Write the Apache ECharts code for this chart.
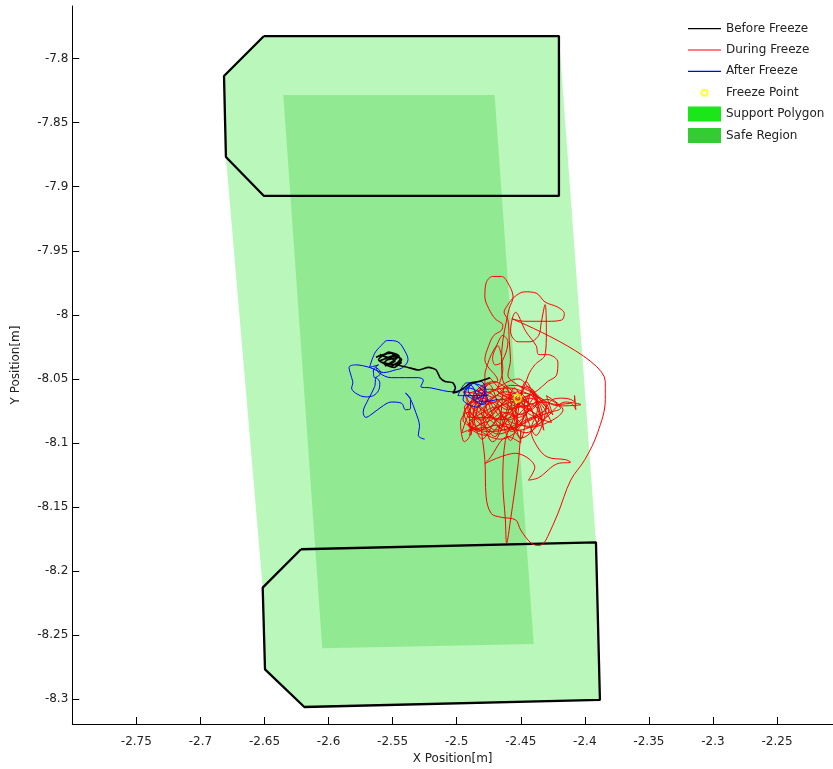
<!DOCTYPE html>
<html>
<head>
<meta charset="utf-8">
<script src="https://cdn.jsdelivr.net/npm/echarts@6/dist/echarts.min.js"></script>
<style>
html,body{margin:0;padding:0;background:#fff;}
#chart{width:833px;height:769px;}
</style>
</head>
<body>
<div id="chart"></div>
<script>
// ---- tick values ----
const xTicks = [-2.75, -2.7, -2.65, -2.6, -2.55, -2.5, -2.45, -2.4, -2.35, -2.3, -2.25];
const yTicks = [-8.3, -8.25, -8.2, -8.15, -8.1, -8.05, -8, -7.95, -7.9, -7.85, -7.8];

// ---- regions (x, y in metres) ----
const supportPolygon = [[-2.6504,-7.7824],[-2.4202,-7.7824],[-2.3913,-8.1775],[-2.3882,-8.3005],[-2.6189,-8.3060],[-2.6496,-8.2766],[-2.6514,-8.2129],[-2.6801,-7.8768],[-2.6816,-7.8136]];
const safeRegion = [[-2.6353,-7.8284],[-2.4704,-7.8284],[-2.4399,-8.2568],[-2.6049,-8.2602]];
const topFoot = [[-2.6504,-7.7824],[-2.4202,-7.7824],[-2.4202,-7.9072],[-2.6504,-7.9072],[-2.6801,-7.8768],[-2.6816,-7.8136],[-2.6504,-7.7824]];
const bottomFoot = [[-2.6215,-8.1829],[-2.3913,-8.1775],[-2.3882,-8.3005],[-2.6189,-8.3060],[-2.6496,-8.2766],[-2.6514,-8.2129],[-2.6215,-8.1829]];

// ---- trajectories ----
const beforeFreeze = [[-2.563,-8.033],[-2.557,-8.031],[-2.551,-8.030],[-2.547,-8.033],[-2.554,-8.035],[-2.557,-8.038],[-2.552,-8.040],[-2.546,-8.037],[-2.544,-8.034],[-2.550,-8.032],[-2.555,-8.034],[-2.560,-8.036],[-2.554,-8.038],[-2.547,-8.039],[-2.543,-8.035],[-2.549,-8.031],[-2.552,-8.034],[-2.560,-8.031],[-2.548,-8.036],[-2.556,-8.040],[-2.545,-8.032],[-2.553,-8.029],[-2.561,-8.035],[-2.549,-8.041],[-2.543,-8.037],[-2.546,-8.039],[-2.538,-8.041],[-2.530,-8.043],[-2.522,-8.041],[-2.516,-8.043],[-2.513,-8.049],[-2.509,-8.052],[-2.503,-8.053],[-2.501,-8.057],[-2.503,-8.061],[-2.499,-8.060],[-2.493,-8.056],[-2.489,-8.053],[-2.483,-8.052],[-2.474,-8.049]];

const duringFreeze = [[-2.474,-8.049],[-2.464,-8.060],[-2.454,-8.065],[-2.444,-8.063],[-2.448,-8.070],[-2.460,-8.074],[-2.472,-8.068],[-2.479,-8.074],[-2.468,-8.082],[-2.452,-8.078],[-2.440,-8.073],[-2.437,-8.065],[-2.446,-8.057],[-2.458,-8.055],[-2.469,-8.063],[-2.477,-8.070],[-2.485,-8.078],[-2.491,-8.086],[-2.482,-8.090],[-2.469,-8.086],[-2.456,-8.088],[-2.444,-8.082],[-2.433,-8.076],[-2.425,-8.066],[-2.417,-8.065],[-2.411,-8.066],[-2.408,-8.068],[-2.408,-8.063],[-2.407,-8.074],[-2.411,-8.069],[-2.421,-8.070],[-2.433,-8.068],[-2.443,-8.074],[-2.452,-8.084],[-2.464,-8.090],[-2.476,-8.091],[-2.487,-8.088],[-2.495,-8.082],[-2.493,-8.073],[-2.483,-8.065],[-2.472,-8.059],[-2.460,-8.057],[-2.448,-8.060],[-2.438,-8.066],[-2.433,-8.078],[-2.440,-8.086],[-2.452,-8.090],[-2.464,-8.086],[-2.474,-8.078],[-2.483,-8.070],[-2.487,-8.063],[-2.479,-8.055],[-2.468,-8.051],
[-2.478,-8.035],[-2.475,-8.024],[-2.471,-8.016],[-2.465,-8.012],[-2.464,-8.008],[-2.470,-8.003],[-2.475,-7.995],[-2.478,-7.986],[-2.477,-7.975],[-2.472,-7.970],[-2.465,-7.970],[-2.459,-7.977],[-2.456,-7.986],[-2.459,-7.995],[-2.461,-8.004],[-2.464,-8.020],[-2.465,-8.035],[-2.464,-8.051],
[-2.456,-8.060],[-2.444,-8.070],[-2.450,-8.078],[-2.462,-8.070],[-2.472,-8.074],[-2.482,-8.082],[-2.491,-8.076],[-2.497,-8.084],[-2.494,-8.099],[-2.490,-8.095],[-2.489,-8.084],[-2.476,-8.080],[-2.460,-8.082],[-2.448,-8.074],[-2.440,-8.063],[-2.452,-8.055],[-2.460,-8.047],
[-2.458,-8.035],[-2.459,-8.020],[-2.460,-8.004],[-2.463,-7.998],[-2.460,-7.992],[-2.455,-7.986],[-2.447,-7.982],[-2.438,-7.983],[-2.431,-7.990],[-2.421,-7.994],[-2.416,-7.999],[-2.418,-8.004],[-2.429,-8.005],[-2.447,-8.005],[-2.457,-8.003],
[-2.384,-8.052],[-2.384,-8.066],[-2.390,-8.092],[-2.400,-8.113],[-2.411,-8.129],[-2.421,-8.155],[-2.429,-8.173],[-2.432,-8.178],[-2.436,-8.180],[-2.442,-8.178],[-2.450,-8.168],[-2.454,-8.160],[-2.465,-8.158],[-2.473,-8.155],[-2.477,-8.142],[-2.478,-8.113],[-2.481,-8.084],
[-2.472,-8.078],[-2.458,-8.066],[-2.446,-8.068],[-2.437,-8.074],[-2.442,-8.090],[-2.437,-8.103],[-2.429,-8.111],[-2.415,-8.113],[-2.411,-8.115],[-2.421,-8.116],[-2.436,-8.127],[-2.444,-8.129],[-2.439,-8.119],[-2.454,-8.108],[-2.478,-8.116],[-2.475,-8.113],[-2.460,-8.095],[-2.450,-8.100],[-2.450,-8.090],[-2.452,-8.116],[-2.458,-8.160],[-2.461,-8.178],[-2.462,-8.160],[-2.464,-8.129],[-2.462,-8.098],[-2.456,-8.082],
[-2.444,-8.047],[-2.439,-8.039],[-2.431,-8.031],[-2.430,-8.013],[-2.431,-7.992],[-2.434,-8.006],[-2.436,-8.016],[-2.443,-8.021],[-2.452,-8.021],[-2.458,-8.013],[-2.454,-7.998],[-2.446,-8.013],[-2.438,-8.024],[-2.436,-8.031],[-2.429,-8.031],[-2.421,-8.037],[-2.422,-8.047],[-2.429,-8.052],[-2.437,-8.059],
[-2.448,-8.065],[-2.464,-8.070],[-2.475,-8.076],[-2.478,-8.047],[-2.476,-8.039],[-2.473,-8.031],[-2.469,-8.024],[-2.464,-8.016],[-2.460,-8.021],[-2.465,-8.037],[-2.470,-8.039],[-2.472,-8.034],[-2.468,-8.024],[-2.464,-8.043],[-2.468,-8.059],[-2.456,-8.066],[-2.444,-8.074],[-2.452,-8.080],[-2.464,-8.076],[-2.473,-8.082],[-2.483,-8.086],[-2.491,-8.091],[-2.479,-8.088],[-2.468,-8.093],[-2.452,-8.087],[-2.438,-8.080],[-2.427,-8.076],[-2.419,-8.073],[-2.429,-8.066],[-2.440,-8.069],[-2.452,-8.072],[-2.464,-8.066],[-2.476,-8.070],[-2.483,-8.060],[-2.476,-8.055],
[-2.487,-8.066],[-2.472,-8.080],[-2.491,-8.080],[-2.468,-8.063],[-2.452,-8.086],[-2.456,-8.063],[-2.433,-8.082],[-2.440,-8.060],[-2.425,-8.078],[-2.430,-8.063],[-2.417,-8.074],[-2.444,-8.088],[-2.460,-8.076],[-2.476,-8.088],[-2.491,-8.070],[-2.479,-8.065],[-2.464,-8.080],[-2.448,-8.066],[-2.437,-8.086],[-2.452,-8.060],[-2.469,-8.074],[-2.483,-8.091],[-2.494,-8.078],[-2.477,-8.060],[-2.458,-8.073],[-2.443,-8.065],[-2.430,-8.073],[-2.446,-8.082],[-2.462,-8.090],[-2.474,-8.082],[-2.485,-8.073],[-2.472,-8.065],
[-2.495,-8.060],[-2.470,-8.095],[-2.462,-8.055],[-2.450,-8.097],[-2.441,-8.058],[-2.432,-8.090],[-2.446,-8.052],[-2.458,-8.098],[-2.475,-8.054],[-2.489,-8.094],[-2.481,-8.058],[-2.466,-8.088],[-2.455,-8.057],[-2.438,-8.094],[-2.430,-8.070],[-2.449,-8.061],[-2.472,-8.099],[-2.485,-8.068],[-2.496,-8.092],[-2.478,-8.083],[-2.460,-8.062],[-2.444,-8.077],[-2.426,-8.084],[-2.437,-8.068],[-2.457,-8.091],[-2.470,-8.072],[-2.488,-8.080],[-2.492,-8.064],[-2.474,-8.058],[-2.455,-8.069],[-2.436,-8.081],[-2.449,-8.096],[-2.465,-8.079],[-2.480,-8.097],[-2.487,-8.075],[-2.468,-8.057],[-2.452,-8.050],[-2.440,-8.062],[-2.428,-8.074],[-2.441,-8.087],[-2.459,-8.083],[-2.476,-8.067],[-2.494,-8.072],[-2.483,-8.089],[-2.466,-8.097],[-2.451,-8.088],[-2.447,-8.068],[-2.462,-8.060],[-2.479,-8.077],[-2.470,-8.090],[-2.455,-8.075],[-2.445,-8.056],[-2.433,-8.066],[-2.420,-8.071],[-2.403,-8.070],[-2.415,-8.068],[-2.430,-8.080],[-2.446,-8.092],[-2.463,-8.085],[-2.477,-8.094],[-2.490,-8.086],[-2.486,-8.061],[-2.471,-8.052],[-2.457,-8.064],[-2.468,-8.066]];

const afterFreeze = [[-2.468,-8.066],[-2.480,-8.068],[-2.489,-8.055],[-2.495,-8.066],[-2.484,-8.072],[-2.478,-8.058],[-2.492,-8.053],[-2.499,-8.063],[-2.476,-8.063],[-2.482,-8.057],[-2.487,-8.053],[-2.491,-8.059],[-2.485,-8.065],[-2.477,-8.060],[-2.481,-8.052],[-2.490,-8.055],[-2.494,-8.060],[-2.487,-8.066],[-2.479,-8.070],[-2.476,-8.065],[-2.483,-8.060],[-2.491,-8.057],[-2.497,-8.059],[-2.504,-8.060],[-2.511,-8.059],[-2.520,-8.057],[-2.528,-8.056],[-2.526,-8.051],[-2.530,-8.049],[-2.540,-8.049],[-2.551,-8.049],[-2.561,-8.045],[-2.563,-8.041],[-2.559,-8.045],[-2.564,-8.049],[-2.565,-8.043],[-2.561,-8.039],[-2.568,-8.041],[-2.564,-8.030],[-2.559,-8.024],[-2.554,-8.020],[-2.546,-8.021],[-2.540,-8.029],[-2.538,-8.035],[-2.542,-8.041],[-2.548,-8.043],[-2.557,-8.045],[-2.568,-8.041],[-2.579,-8.039],[-2.584,-8.041],[-2.582,-8.049],[-2.581,-8.053],[-2.582,-8.057],[-2.579,-8.061],[-2.571,-8.064],[-2.565,-8.063],[-2.561,-8.059],[-2.560,-8.053],[-2.563,-8.049],[-2.564,-8.056],[-2.569,-8.066],[-2.573,-8.076],[-2.571,-8.080],[-2.567,-8.078],[-2.559,-8.072],[-2.551,-8.068],[-2.543,-8.069],[-2.540,-8.074],[-2.536,-8.073],[-2.536,-8.066],[-2.540,-8.061],[-2.536,-8.066],[-2.532,-8.076],[-2.529,-8.087],[-2.530,-8.094],[-2.528,-8.096],[-2.525,-8.097]];

const freezePoint = [[-2.4524,-8.0651]];

// ---- axis extents ----
const xMin = -2.8, xMax = -2.2063, yMin = -8.31928, yMax = -7.75895;

const FONT = 'DejaVu Sans';
const TXT = '#222';

function polygonRenderer(points, fill) {
  return function (params, api) {
    if (params.dataIndex !== 0) return;
    const pts = points.map(p => api.coord(p));
    return { type: 'polygon', shape: { points: pts }, style: { fill: fill } };
  };
}

const ringIcon = 'path://M0,0L0,0M33,15L33,15M12.5,7.5A4,4 0 1,1 20.5,7.5A4,4 0 1,1 12.5,7.5ZM14.5,7.5A2,2 0 1,0 18.5,7.5A2,2 0 1,0 14.5,7.5Z';
const lineIcon = 'path://M0,0L0,0M33,15L33,15M0,7L33,7L33,8.2L0,8.2Z';

const chart = echarts.init(document.getElementById('chart'), null, { renderer: 'canvas' });
chart.setOption({
  animation: false,
  backgroundColor: '#fff',
  grid: { left: 72.3, top: 6, width: 760.7, height: 718, outerBoundsMode: 'none', containLabel: false },
  xAxis: {
    type: 'value', min: xMin, max: xMax,
    name: 'X Position[m]', nameLocation: 'middle', nameGap: 28,
    nameTextStyle: { fontFamily: FONT, fontSize: 12, color: TXT },
    axisLine: { show: true, onZero: false, lineStyle: { color: '#000', width: 1 } },
    axisTick: { show: true, inside: true, length: 7, customValues: xTicks, lineStyle: { color: '#000' } },
    axisLabel: { customValues: xTicks, margin: 12, fontFamily: FONT, fontSize: 12, color: TXT },
    splitLine: { show: false }
  },
  yAxis: {
    type: 'value', min: yMin, max: yMax,
    name: 'Y Position[m]', nameLocation: 'middle', nameGap: 50,
    nameTextStyle: { fontFamily: FONT, fontSize: 12, color: TXT },
    axisLine: { show: true, onZero: false, lineStyle: { color: '#000', width: 1 } },
    axisTick: { show: true, inside: true, length: 7, customValues: yTicks, lineStyle: { color: '#000' } },
    axisLabel: { customValues: yTicks, margin: 4, fontFamily: FONT, fontSize: 12, color: TXT },
    splitLine: { show: false }
  },
  legend: {
    orient: 'vertical', left: 683, top: 16,
    itemWidth: 33, itemHeight: 15, itemGap: 6.4,
    selectedMode: false,
    textStyle: { fontFamily: FONT, fontSize: 12, color: TXT },
    data: [
      { name: 'Before Freeze', icon: lineIcon, itemStyle: { color: '#000' } },
      { name: 'During Freeze', icon: lineIcon, itemStyle: { color: '#ff0000' } },
      { name: 'After Freeze', icon: lineIcon, itemStyle: { color: '#0000ff' } },
      { name: 'Freeze Point', icon: ringIcon, itemStyle: { color: '#ffff00', borderWidth: 0 } },
      { name: 'Support Polygon', icon: 'rect' },
      { name: 'Safe Region', icon: 'rect' }
    ]
  },
  series: [
    { name: 'Support Polygon', type: 'custom', z: 1, clip: true, silent: true,
      itemStyle: { color: '#1ae61a' },
      renderItem: polygonRenderer(supportPolygon, 'rgba(26,230,26,0.3)'),
      data: supportPolygon },
    { name: 'Safe Region', type: 'custom', z: 2, clip: true, silent: true,
      itemStyle: { color: '#33cc33' },
      renderItem: polygonRenderer(safeRegion, 'rgba(51,204,51,0.3)'),
      data: safeRegion },
    { name: 'topFootOutline', type: 'line', z: 3, symbol: 'none', silent: true,
      lineStyle: { color: '#000', width: 2.3 }, data: topFoot },
    { name: 'bottomFootOutline', type: 'line', z: 3, symbol: 'none', silent: true,
      lineStyle: { color: '#000', width: 2.3 }, data: bottomFoot },
    { name: 'During Freeze', type: 'line', z: 4, symbol: 'none', smooth: 0.35,
      color: '#ff0000', lineStyle: { color: '#ff0000', width: 1 }, data: duringFreeze },
    { name: 'After Freeze', type: 'line', z: 5, symbol: 'none', smooth: 0.35,
      color: '#0000ff', lineStyle: { color: '#0000ff', width: 1 }, data: afterFreeze },
    { name: 'Before Freeze', type: 'line', z: 6, symbol: 'none', smooth: 0.2,
      color: '#000', lineStyle: { color: '#000', width: 1.6 }, data: beforeFreeze },
    { name: 'Freeze Point', type: 'scatter', z: 7, symbol: 'circle', symbolSize: 7,
      itemStyle: { color: 'rgba(0,0,0,0)', borderColor: '#ffff00', borderWidth: 2 },
      data: freezePoint }
  ]
});
</script>
</body>
</html>
